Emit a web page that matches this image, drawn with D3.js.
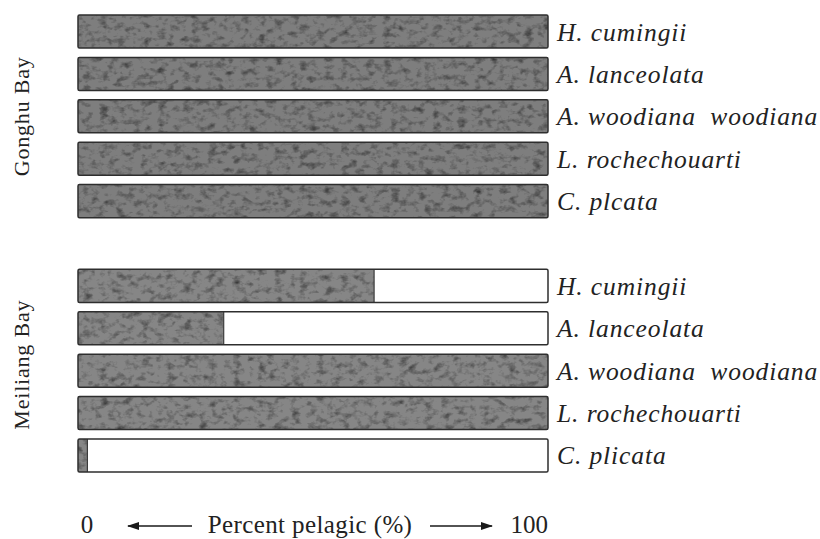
<!DOCTYPE html>
<html>
<head>
<meta charset="utf-8">
<script src="https://cdn.jsdelivr.net/npm/d3@7"></script>
<style>
  html, body { margin: 0; padding: 0; background: #fff; }
  svg { display: block; }
</style>
</head>
<body>
<svg id="chart" width="820" height="539"></svg>
<script>
// Percent of individuals found pelagic, by species and bay
const bays = ["Gonghu Bay", "Meiliang Bay"];
const gonghuSpecies = ["H. cumingii", "A. lanceolata", "A. woodiana  woodiana", "L. rochechouarti", "C. plcata"];
const gonghuValues = [100, 100, 100, 100, 100];
const meiliangSpecies = ["H. cumingii", "A. lanceolata", "A. woodiana  woodiana", "L. rochechouarti", "C. plicata"];
const meiliangValues = [63, 31, 100, 100, 2];
const axisLabels = ["0", "Percent pelagic (%)", "100"];

const rows = [
  ...gonghuSpecies.map((s, i) => ({ key: "g" + i, bay: 0, species: s, value: gonghuValues[i] })),
  ...meiliangSpecies.map((s, i) => ({ key: "m" + i, bay: 1, species: s, value: meiliangValues[i] }))
];
const slots = [...rows.slice(0, 5).map(r => r.key), "gap", ...rows.slice(5).map(r => r.key)];

const svg = d3.select("#chart");
const x = d3.scaleLinear().domain([0, 100]).range([78, 548]);
const y = d3.scaleBand().domain(slots).range([15, 472]).paddingInner(0.22).paddingOuter(0);

const serif = "'Liberation Serif', 'DejaVu Serif', serif";

// soft mottled gray texture for the filled part of each bar
const defs = svg.append("defs");
const f = defs.append("filter").attr("id", "grain")
  .attr("x", 0).attr("y", 0).attr("width", 1).attr("height", 1)
  .attr("color-interpolation-filters", "sRGB");
f.append("feTurbulence").attr("type", "fractalNoise").attr("baseFrequency", "0.12 0.16")
  .attr("numOctaves", 3).attr("seed", 11).attr("result", "noise");
f.append("feColorMatrix").attr("in", "noise").attr("type", "matrix")
  .attr("values", "0.75 0.75 0 0 0.22  0.75 0.75 0 0 0.22  0.75 0.75 0 0 0.22  0 0 0 0 1")
  .attr("result", "gray");
f.append("feGaussianBlur").attr("in", "gray").attr("stdDeviation", 0.7).attr("result", "soft");
f.append("feBlend").attr("in", "soft").attr("in2", "SourceGraphic").attr("mode", "multiply").attr("result", "mix");
f.append("feComposite").attr("in", "mix").attr("in2", "SourceGraphic").attr("operator", "in");

const g = svg.append("g");
const bar = g.selectAll("g.row").data(rows).join("g").attr("class", "row");

// white background of full width
bar.append("rect")
  .attr("x", x(0)).attr("y", d => y(d.key))
  .attr("width", x(100) - x(0)).attr("height", y.bandwidth())
  .attr("fill", "#fff");

// filled portion
bar.append("rect")
  .attr("x", x(0)).attr("y", d => y(d.key))
  .attr("width", d => x(d.value) - x(0)).attr("height", y.bandwidth())
  .attr("fill", d => d.bay === 0 ? "#7e7e7e" : "#868686")
  .attr("filter", "url(#grain)");

// divider at the end of partial fills
bar.filter(d => d.value > 0 && d.value < 100).append("line")
  .attr("x1", d => x(d.value)).attr("x2", d => x(d.value))
  .attr("y1", d => y(d.key)).attr("y2", d => y(d.key) + y.bandwidth())
  .attr("stroke", "#3a3a3a").attr("stroke-width", 1.2);

// outline
bar.append("rect")
  .attr("x", x(0)).attr("y", d => y(d.key))
  .attr("width", x(100) - x(0)).attr("height", y.bandwidth())
  .attr("rx", 1.5)
  .attr("fill", "none").attr("stroke", "#2e2e2e").attr("stroke-width", 1.5);

// species names
bar.append("text")
  .attr("x", 557).attr("y", d => y(d.key) + y.bandwidth() / 2 + 9)
  .attr("font-family", serif)
  .attr("font-style", "italic").attr("font-size", 25.5)
  .attr("letter-spacing", 0.9)
  .attr("fill", "#222")
  .style("white-space", "pre")
  .text(d => d.species);

// bay labels, rotated
const bayShift = [0, -6];
bays.forEach((b, i) => {
  const keys = rows.filter(r => r.bay === i).map(r => r.key);
  const cy = (y(keys[0]) + y(keys[keys.length - 1]) + y.bandwidth()) / 2 + bayShift[i];
  svg.append("text")
    .attr("transform", `translate(29,${cy}) rotate(-90)`)
    .attr("text-anchor", "middle")
    .attr("font-family", serif)
    .attr("font-size", 22).attr("letter-spacing", 0.8)
    .attr("fill", "#222")
    .text(b);
});

// bottom axis caption with arrows
const axY = 533;
const axText = svg.append("g")
  .attr("font-family", serif)
  .attr("font-size", 25).attr("fill", "#222");
axText.append("text").attr("x", x(0) + 9).attr("y", axY).attr("text-anchor", "middle").text(axisLabels[0]);
axText.append("text").attr("x", (x(0) + x(100)) / 2 - 3).attr("y", axY).attr("text-anchor", "middle").attr("letter-spacing", 0.4).text(axisLabels[1]);
axText.append("text").attr("x", x(100)).attr("y", axY).attr("text-anchor", "end").text(axisLabels[2]);

defs.append("marker").attr("id", "head").attr("viewBox", "0 0 12 8")
  .attr("refX", 11).attr("refY", 4).attr("markerWidth", 12).attr("markerHeight", 8)
  .attr("markerUnits", "userSpaceOnUse").attr("orient", "auto")
  .append("path").attr("d", "M0,0 L12,4 L0,8 Z").attr("fill", "#1a1a1a");

const arrows = [[192, 128], [430, 492]];
svg.selectAll("line.arrow").data(arrows).join("line").attr("class", "arrow")
  .attr("x1", d => d[0]).attr("x2", d => d[1])
  .attr("y1", axY - 7).attr("y2", axY - 7)
  .attr("stroke", "#1a1a1a").attr("stroke-width", 1.5)
  .attr("marker-end", "url(#head)");
</script>
</body>
</html>
